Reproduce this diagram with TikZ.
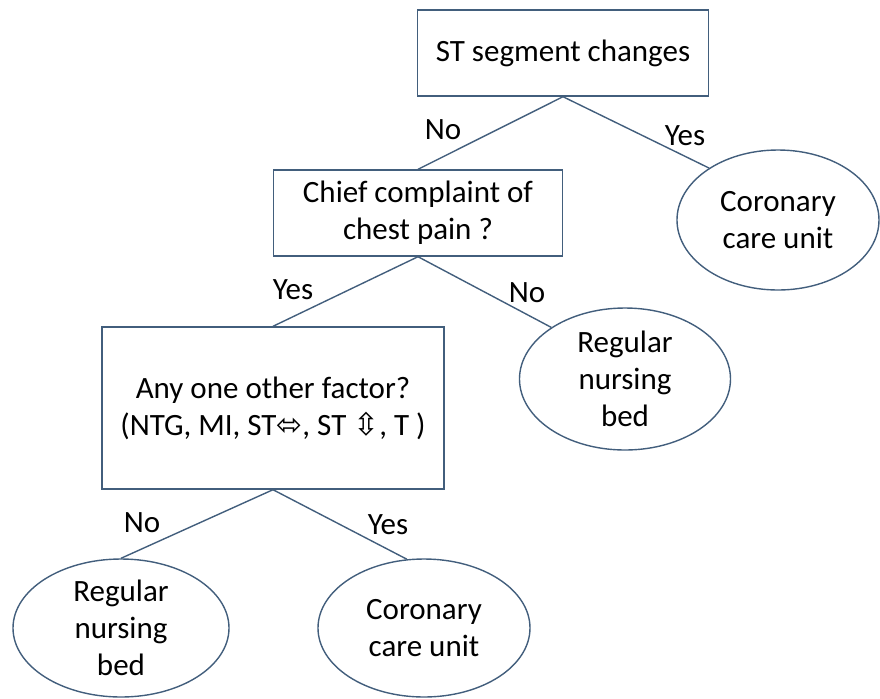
\documentclass[tikz,border=0pt]{standalone}
\usepackage{fontspec}
\setmainfont{Carlito}
\newfontfamily\symfont{DejaVu Sans}
\usetikzlibrary{shapes.geometric}
\definecolor{edgeblue}{RGB}{66,94,124}

\begin{document}
\begin{tikzpicture}[x=0.5pt, y=-0.5pt, line width=0.7pt,
  box/.style={rectangle, draw=edgeblue, align=center, inner sep=0pt},
  unit/.style={ellipse, draw=edgeblue, align=center, inner sep=0pt},
  lbl/.style={inner sep=0pt},
  font=\fontsize{15.5}{18.5}\selectfont]
\useasboundingbox (0,0) rectangle (880,698);

\node[box, minimum width=145.5pt, minimum height=43pt] (st) at (563,53) {ST segment changes};
\node[box, minimum width=144.5pt, minimum height=43pt] (chest) at (418,213) {Chief complaint of\\chest pain ?};
\node[box, minimum width=171pt, minimum height=81pt] (other) at (273,408) {Any one other factor?\\(NTG, MI, ST{\symfont\char"2B04}, ST {\symfont\char"21F3}, T )};
\node[unit, minimum width=101pt, minimum height=70pt] (ccuA) at (778,220) {Coronary\\care unit};
\node[unit, minimum width=105.5pt, minimum height=71pt] (bedA) at (625,379) {Regular\\nursing\\bed};
\node[unit, minimum width=108pt, minimum height=69pt] (bedB) at (121,628) {Regular\\nursing\\bed};
\node[unit, minimum width=106pt, minimum height=69pt] (ccuB) at (424,628) {Coronary\\care unit};

\node[lbl] (noA) at (443,130) {No};
\node[lbl] (yesA) at (685,136) {Yes};
\node[lbl] (yesB) at (293,290) {Yes};
\node[lbl] (noB) at (527,293) {No};
\node[lbl] (noC) at (142,523) {No};
\node[lbl] (yesC) at (388,525) {Yes};

\draw[edgeblue] (st.south) -- (chest.north);
\draw[edgeblue] (st.south) -- (ccuA.143);
\draw[edgeblue] (chest.south) -- (other.north);
\draw[edgeblue] (chest.south) -- (bedA.145);
\draw[edgeblue] (other.south) -- (bedB.north);
\draw[edgeblue] (other.south) -- (ccuB.104);
\end{tikzpicture}
\end{document}
